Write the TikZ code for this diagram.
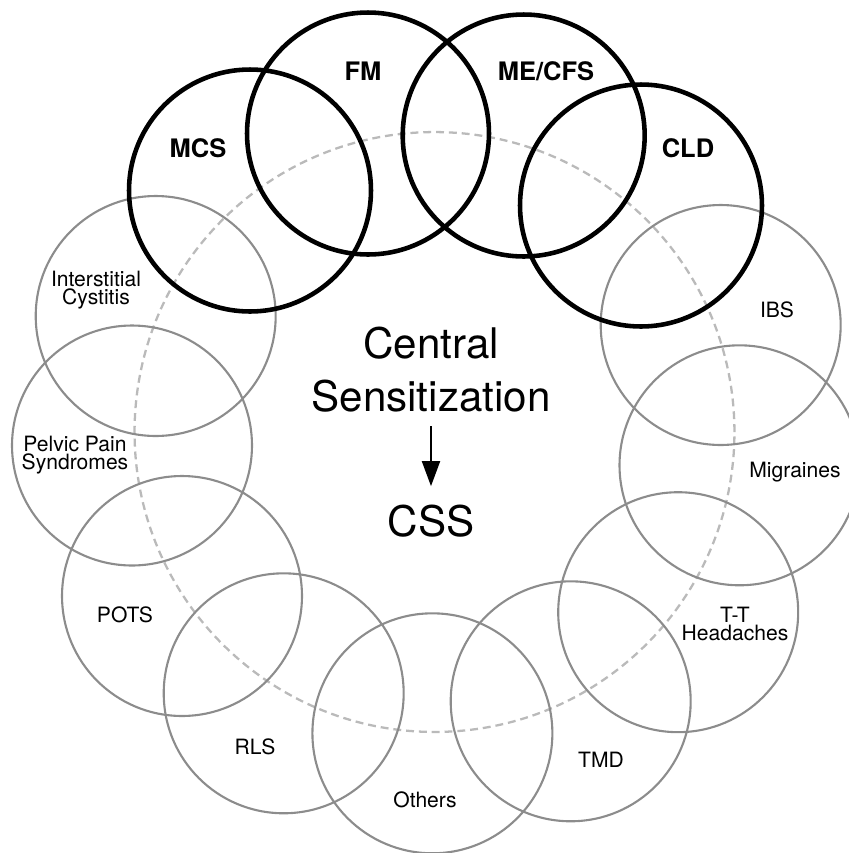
\documentclass[tikz,border=0pt]{standalone}
\usepackage{fontspec}
\setmainfont{TeX Gyre Heros}
\usetikzlibrary{arrows.meta}

\begin{document}
\begin{tikzpicture}[x=0.02cm,y=-0.02cm,
	ring/.style={circle,draw=black!27,line width=1.3pt,dash pattern=on 4.5pt off 2.8pt,minimum size=12cm,inner sep=0pt},
	core/.style={circle,draw=black,line width=2.6pt,minimum size=4.84cm,inner sep=0pt},
	side/.style={circle,draw=black!45,line width=1.2pt,minimum size=4.8cm,inner sep=0pt},
	corelbl/.style={font=\fontsize{14.5}{17}\selectfont\bfseries},
	sidelbl/.style={align=center,inner sep=1pt,font=\fontsize{12}{10.6}\selectfont},
	biglbl/.style={inner sep=0pt,font=\fontsize{24}{30}\selectfont}]
	\useasboundingbox (0,0) rectangle (849,853);
	\clip (0,0) rectangle (849,853);

	%dashed ring
	\node[ring] (cs) at (434.5,432) {};

	%grey circles
	\node[side] (ic)  at (155.7,316) {};	%interstitial cystitis
	\node[side] (pp)  at (132,445.5) {};	%pelvic pain
	\node[side] (pots) at (182,596) {};
	\node[side] (rls) at (283.7,693.3) {};
	\node[side] (oth) at (432.4,733.3) {};	%others
	\node[side] (tmd) at (570.7,701.3) {};
	\node[side] (tth) at (678.2,612.2) {};	%t-t headaches
	\node[side] (mig) at (739.5,465.3) {};	%migraines
	\node[side] (ibs) at (720.7,325) {};

	%black circles
	\node[core] (mcs) at (250,190.5) {};
	\node[core] (fm)  at (368,133.5) {};
	\node[core] (me)  at (523.7,135.5) {};
	\node[core] (cld) at (641,205.5) {};

	%black labels
	\node[corelbl] (mcs-t) at (198,148.5) {MCS};
	\node[corelbl] (fm-t)  at (363,71)    {FM};
	\node[corelbl] (me-t)  at (546,71)    {ME/CFS};
	\node[corelbl] (cld-t) at (688,148.5) {CLD};

	%grey labels
	\node[sidelbl] (ic-t)   at (96,290)  {Interstitial\\Cystitis};
	\node[sidelbl] (ibs-t)  at (777,309.5) {IBS};
	\node[sidelbl] (pp-t)   at (75,455)  {Pelvic Pain\\Syndromes};
	\node[sidelbl] (mig-t)  at (795,472)  {Migraines};
	\node[sidelbl] (pots-t) at (125,615)  {POTS};
	\node[sidelbl] (tth-t)  at (735,624)  {T-T\\Headaches};
	\node[sidelbl] (rls-t)  at (255,746.5) {RLS};
	\node[sidelbl] (tmd-t)  at (601,760)  {TMD};
	\node[sidelbl] (oth-t)  at (425,799.5) {Others};

	%centre
	\node[biglbl,anchor=base] (cen)  at (431,358) {Central};
	\node[biglbl,anchor=base] (sens) at (431,411) {Sensitization};
	\node[biglbl,anchor=base] (css)  at (431,536) {CSS};
	\draw[-{Triangle[length=0.5cm,width=0.36cm]},line width=1.1pt,shorten <=0.28cm,shorten >=0.36cm] (sens.south) -- (css.north);
\end{tikzpicture}
\end{document}
